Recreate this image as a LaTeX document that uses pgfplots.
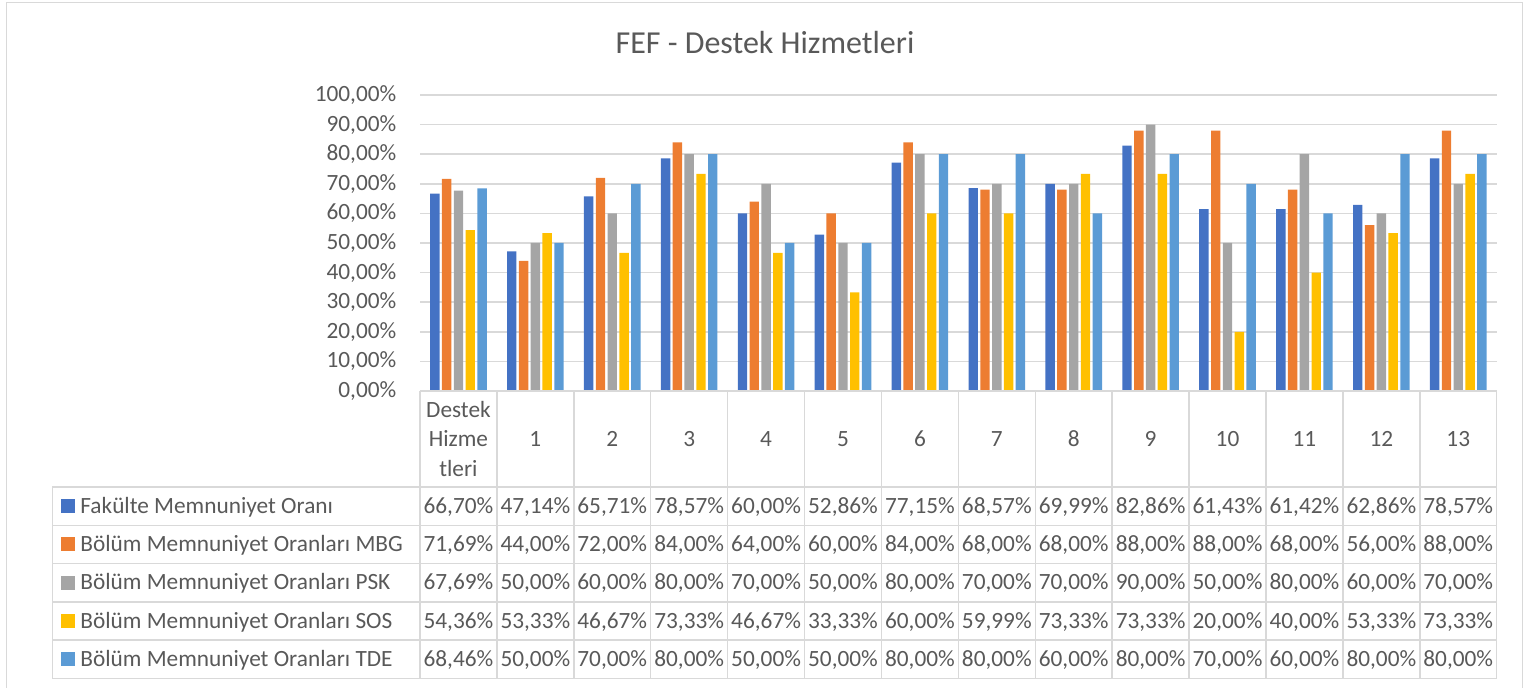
\documentclass[border=0pt]{standalone}
\usepackage{fontspec}
\setmainfont{Carlito}
\usepackage{pgfplots}
\usepackage{pgfplotstable}
\pgfplotsset{compat=1.18}
\pgfkeys{/pgf/number format/assume math mode=true}
\definecolor{cA}{HTML}{4472C4}
\definecolor{cB}{HTML}{ED7D31}
\definecolor{cC}{HTML}{A5A5A5}
\definecolor{cD}{HTML}{FFC000}
\definecolor{cE}{HTML}{5B9BD5}
\definecolor{txt}{HTML}{595959}
\definecolor{gridc}{HTML}{D9D9D9}

\pgfplotstableread{
x fak mbg psk sos tde
0 66.70 71.69 67.69 54.36 68.46
1 47.14 44.00 50.00 53.33 50.00
2 65.71 72.00 60.00 46.67 70.00
3 78.57 84.00 80.00 73.33 80.00
4 60.00 64.00 70.00 46.67 50.00
5 52.86 60.00 50.00 33.33 50.00
6 77.15 84.00 80.00 60.00 80.00
7 68.57 68.00 70.00 59.99 80.00
8 69.99 68.00 70.00 73.33 60.00
9 82.86 88.00 90.00 73.33 80.00
10 61.43 88.00 50.00 20.00 70.00
11 61.42 68.00 80.00 40.00 60.00
12 62.86 56.00 60.00 53.33 80.00
13 78.57 88.00 70.00 73.33 80.00
}\datatable

\begin{document}
\begin{tikzpicture}[x=0.5pt,y=-0.5pt,font=\fontsize{11.65}{14}\selectfont,text=txt]
\path[use as bounding box] (0,0) rectangle (1526,688);
\draw[gridc,line width=0.75pt] (6.5,2.5) rectangle (1522.5,720);

\node[anchor=base,font=\fontsize{16}{19}\selectfont,text=txt] at (765,53.3) {FEF - Destek Hizmetleri};

\begin{axis}[
  at={(210pt,-195.5pt)}, anchor=south west,
  width=538.35pt, height=148pt, scale only axis,
  xmin=-0.5, xmax=13.5, ymin=0, ymax=100,
  ybar=1.2pt, bar width=4.7pt,
  axis line style={draw=none},
  xtick=\empty,
  ytick={0,10,...,100},
  yticklabel={\pgfmathprintnumber[fixed,fixed zerofill,precision=2,use comma]{\tick}\%},
  yticklabel style={anchor=east,inner sep=0pt,xshift=-11.65pt,font=\fontsize{11.65}{14}\selectfont,text=txt},
  ymajorgrids, grid style={gridc,line width=0.75pt},
  major tick length=0pt, tick style={draw=none},
]
\addplot[fill=cA,draw=none] table[x=x,y=fak]{\datatable};
\addplot[fill=cB,draw=none] table[x=x,y=mbg]{\datatable};
\addplot[fill=cC,draw=none] table[x=x,y=psk]{\datatable};
\addplot[fill=cD,draw=none] table[x=x,y=sos]{\datatable};
\addplot[fill=cE,draw=none] table[x=x,y=tde]{\datatable};
\end{axis}

% data table lines
\begin{scope}[gridc,line width=0.75pt]
\foreach \i in {0,...,14} \draw ({420+76.907*\i},391) -- ({420+76.907*\i},678.3);
\foreach \yy in {487,525.26,563.52,601.78,640.04,678.3} \draw (52.3,\yy) -- (1496.7,\yy);
\draw (52.3,487) -- (52.3,678.3);
\draw (420,391) -- (1496.7,391);
\end{scope}

% header row
\node[anchor=base,inner sep=0pt] at (458.45,417.3) {Destek};
\node[anchor=base,inner sep=0pt] at (458.45,447) {Hizme};
\node[anchor=base,inner sep=0pt] at (458.45,476.7) {tleri};
\foreach \i in {1,...,13} \node[anchor=base,inner sep=0pt] at ({420+76.907*(\i+0.5)},446.5) {\i};

% rows
\foreach \n/\c/\lab [count=\r from 0] in {fak/cA/Fakülte Memnuniyet Oranı,mbg/cB/Bölüm Memnuniyet Oranları MBG,psk/cC/Bölüm Memnuniyet Oranları PSK,sos/cD/Bölüm Memnuniyet Oranları SOS,tde/cE/Bölüm Memnuniyet Oranları TDE}{
  \pgfmathsetmacro\yc{506.13+38.26*\r}
  \fill[\c] (61,\yc-7) rectangle (75,\yc+7);
  \node[anchor=base west,inner sep=0pt] at (80,\yc+7.3) {\lab};
  \foreach \i in {0,...,13}{
    \pgfplotstablegetelem{\i}{\n}\of\datatable
    \node[anchor=base,inner sep=0pt] at ({420+76.907*(\i+0.5)},\yc+7.3) {\pgfmathprintnumber[fixed,fixed zerofill,precision=2,use comma]{\pgfplotsretval}\%};
  }
}
\end{tikzpicture}
\end{document}
